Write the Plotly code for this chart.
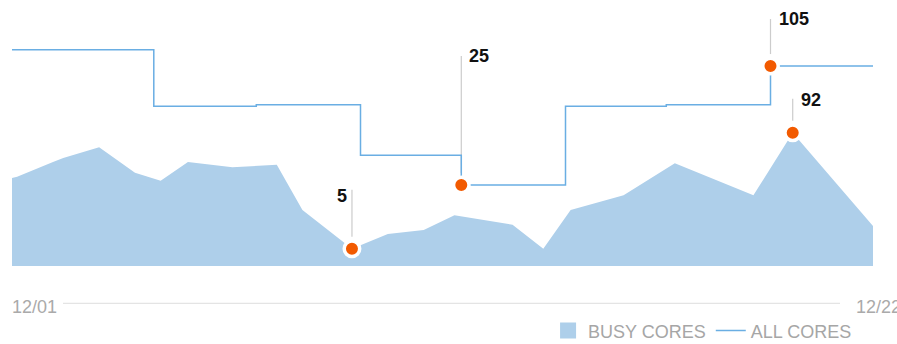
import plotly.graph_objects as go

# Busy cores (area) sampled at irregular times
busy_time = [
    "2023-12-01 00:00", "2023-12-01 03:00", "2023-12-02 00:00", "2023-12-02 06:00",
    "2023-12-03 03:00", "2023-12-04 00:00", "2023-12-04 15:00", "2023-12-05 07:00",
    "2023-12-06 09:00", "2023-12-07 11:00", "2023-12-08 02:00", "2023-12-09 07:00",
    "2023-12-10 04:00", "2023-12-11 01:00", "2023-12-11 19:00", "2023-12-13 05:00",
    "2023-12-13 23:00", "2023-12-14 15:00", "2023-12-15 22:00", "2023-12-17 04:00",
    "2023-12-19 02:00", "2023-12-20 01:00", "2023-12-22 00:00",
]
busy_cores = [58, 59, 70, 73, 81, 62, 56, 70, 66, 68, 34, 5, 16, 19, 30, 23, 5, 34, 45, 69, 45, 92, 22]

# All cores (step line)
all_time = [
    "2023-12-01 00:00", "2023-12-04 11:00", "2023-12-06 23:00", "2023-12-09 12:00",
    "2023-12-11 23:00", "2023-12-14 12:00", "2023-12-16 23:00", "2023-12-19 12:00",
    "2023-12-22 00:00",
]
all_cores = [116, 78, 79, 45, 25, 78, 79, 105, 105]

tick_labels = ["12/01", "12/22"]
series_names = ["BUSY CORES", "ALL CORES"]

# Highlighted points: (index, label side, yshift px, leader length px)
busy_callouts = [(11, "left", 53, 59), (21, "right", 33, 34)]
all_callouts = [(4, "right", 129, 129), (7, "right", 47, 47)]

AREA = "#aecfea"
LINE = "#6aaee3"
DOT = "#f25a00"
FONT = "Arial, 'Liberation Sans', sans-serif"

BUSY_RANGE = [-8, 191.5]
ALL_RANGE = [-29.45, 149.4]

fig = go.Figure()

# floor of the area: bottom edge of the busy axis
fig.add_trace(go.Scatter(
    x=busy_time, y=[BUSY_RANGE[0]] * len(busy_time), mode="lines",
    line=dict(width=0, color=AREA), showlegend=False, hoverinfo="skip",
))
fig.add_trace(go.Scatter(
    x=busy_time, y=busy_cores, mode="lines", fill="tonexty", fillcolor=AREA,
    line=dict(width=0, color=AREA), name=series_names[0], showlegend=False,
))
# legend swatch for the area
fig.add_trace(go.Scatter(
    x=[None], y=[None], mode="markers", name=series_names[0],
    marker=dict(symbol="square", size=18, color=AREA),
))
fig.add_trace(go.Scatter(
    x=all_time, y=all_cores, mode="lines", yaxis="y2",
    line=dict(color=LINE, width=1.5, shape="hv"),
    name=series_names[1],
))

shapes = []
annotations = []


def callouts(times, values, items, axis):
    xs = [times[i] for i, *_ in items]
    ys = [values[i] for i, *_ in items]
    fig.add_trace(go.Scatter(
        x=xs, y=ys, mode="markers", yaxis=axis, showlegend=False,
        marker=dict(size=15.5, color=DOT, line=dict(color="white", width=3.5)),
    ))
    yref = "y" if axis == "y" else "y2"
    for (i, side, yshift, length), x, y in zip(items, xs, ys):
        shapes.append(dict(
            type="line", xref="x", yref=yref, ysizemode="pixel", yanchor=y,
            x0=x, x1=x, y0=12, y1=length, layer="below",
            line=dict(color="#cccccc", width=1.2),
        ))
        annotations.append(dict(
            x=x, y=y, xref="x", yref=yref, text=str(y), showarrow=False,
            xanchor="right" if side == "left" else "left", yanchor="middle",
            xshift=-3 if side == "left" else 6, yshift=yshift,
            font=dict(family=FONT, size=18, color="#111111", weight="bold"),
        ))


callouts(busy_time, busy_cores, busy_callouts, "y")
callouts(all_time, all_cores, all_callouts, "y2")

# horizontal axis: a rule with the first and last dates at its ends
shapes.append(dict(
    type="line", xref="paper", yref="paper", x0=0.0592, x1=0.9617, y0=-0.1402, y1=-0.1402,
    line=dict(color="#dddddd", width=1),
))
for label, x, anchor, shift in [(tick_labels[0], busy_time[0], "left", -2),
                                 (tick_labels[1], busy_time[-1], "left", -19)]:
    annotations.append(dict(
        x=x, y=-0.154, xref="x", yref="paper", text=label, showarrow=False,
        xanchor=anchor, yanchor="middle", xshift=shift,
        font=dict(family=FONT, size=18, color="#aaaaaa"),
    ))

fig.update_layout(
    width=897, height=344,
    margin=dict(l=12, r=24, t=0, b=78, autoexpand=False),
    paper_bgcolor="white", plot_bgcolor="white",
    xaxis=dict(range=[busy_time[0], busy_time[-1]], visible=False),
    yaxis=dict(range=BUSY_RANGE, visible=False),
    yaxis2=dict(range=ALL_RANGE, visible=False, overlaying="y"),
    showlegend=True,
    legend=dict(
        orientation="h", x=0.9815, xanchor="right", y=-0.244, yanchor="middle",
        font=dict(family=FONT, size=18, color="#a6a6a6"),
        bgcolor="rgba(0,0,0,0)", itemclick=False, traceorder="normal",
    ),
    shapes=shapes, annotations=annotations,
)

fig.write_html("out.html")
